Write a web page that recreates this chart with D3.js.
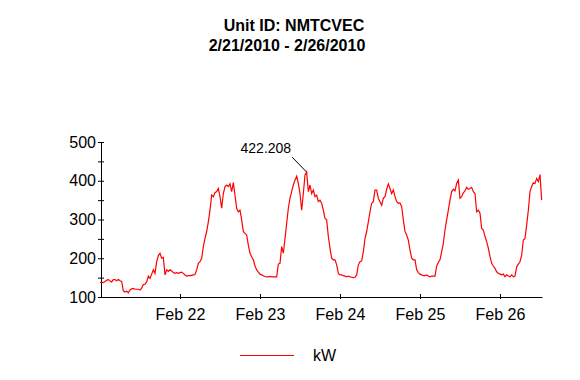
<!DOCTYPE html>
<html><head><meta charset="utf-8">
<script src="https://cdn.jsdelivr.net/npm/d3@7"></script>
<style>
body{margin:0;background:#fff}
svg{display:block}
text{font-family:Arial,"Liberation Sans",sans-serif;fill:#000}
</style>
</head><body>
<svg id="c" width="580" height="380"></svg>
<script>
// ---- data ----
const titleLines = ["Unit ID: NMTCVEC", "2/21/2010 - 2/26/2010"];
const seriesName = "kW";
const startDate = new Date(2010, 1, 21, 0, 0);
const endDate = new Date(2010, 1, 26, 12, 45);
const stepMinutes = 30;

const feb21 = [138,138,137,140,143,145,141,139,145,145,142,145,142,140,116,113,115,111,118,121,122,120,120,120,
               118,123,132,133,139,154,148,159,170,161,191,207,213,200,202,157,170,166,170,167,163,161,163,161];
const feb22 = [163,164,161,157,154,155,155,156,157,158,170,187,191,200,230,251,269,294,324,363,359,369,372,380,
               359,329,367,385,389,385,392,372,395,363,329,320,324,299,269,264,260,234,213,204,196,180,170,164];
const feb23 = [159,157,155,153,152,152,153,152,152,152,152,185,187,230,213,251,290,329,355,372,389,402,412,393,
               367,324,367,415,422.208,372,389,367,376,359,363,346,350,342,324,303,299,256,226,200,196,196,183,161];
const feb24 = [157,157,155,154,152,154,152,151,150,151,157,183,191,193,217,251,269,294,320,342,346,376,376,355,
               346,337,355,359,378,392,380,367,376,359,346,342,343,333,299,269,260,247,221,200,196,196,170,163];
const feb25 = [159,157,155,155,157,154,152,154,154,154,180,189,196,217,238,273,299,324,350,372,378,374,393,402,
               355,359,369,374,383,378,380,383,372,367,320,324,316,277,273,256,243,226,204,187,180,174,165,161];
const feb26 = [159,157,159,152,157,154,152,157,152,154,178,185,191,208,247,251,286,324,372,385,395,393,406,398,
               416,350];

const xTickDates = [new Date(2010,1,22), new Date(2010,1,23), new Date(2010,1,24), new Date(2010,1,25), new Date(2010,1,26)];
const xTickLabels = ["Feb 22", "Feb 23", "Feb 24", "Feb 25", "Feb 26"];
const yMajorTicks = [100, 200, 300, 400, 500];
const yMinorTicks = [150, 250, 350, 450];

// ---- build ----
const values = [].concat(feb21, feb22, feb23, feb24, feb25, feb26);
const data = values.map((v, i) => ({t: new Date(startDate.getTime() + i * stepMinutes * 60000), v}));

const svg = d3.select("#c");
const x = d3.scaleTime().domain([startDate, endDate]).range([100, 542.5]);
const y = d3.scaleLinear().domain([100, 500]).range([297, 142]);

// title
svg.append("text").attr("x", 294).attr("y", 31).attr("text-anchor", "middle")
  .style("font-weight", "bold").style("font-size", "16px").text(titleLines[0]);
svg.append("text").attr("x", 287).attr("y", 51).attr("text-anchor", "middle")
  .style("font-weight", "bold").style("font-size", "16px").text(titleLines[1]);

// x axis
const xAxis = d3.axisBottom(x).tickValues(xTickDates)
  .tickFormat((d, i) => xTickLabels[i]).tickSize(2).tickSizeOuter(0).tickPadding(10);
const gx = svg.append("g").attr("transform", "translate(0,297)").call(xAxis);
gx.select(".domain").attr("d", "M101,0.5H542.5").attr("stroke", "#000");
gx.selectAll(".tick line").attr("y1", -3).attr("y2", 2).attr("stroke", "#000");
gx.selectAll(".tick text").style("font-size", "16px").attr("fill", "#000");

// y axis
const allY = yMajorTicks.concat(yMinorTicks).sort((a, b) => a - b);
const yAxis = d3.axisLeft(y).tickValues(allY)
  .tickFormat(d => yMajorTicks.includes(d) ? d : "").tickSize(3).tickSizeOuter(0).tickPadding(2);
const gy = svg.append("g").attr("transform", "translate(101,0)").call(yAxis);
gy.select(".domain").attr("stroke", "#000");
gy.selectAll(".tick line").attr("x1", 3).attr("stroke", "#000");
gy.selectAll(".tick text").style("font-size", "16px").attr("fill", "#000");

// series line
const line = d3.line().x(d => x(d.t)).y(d => y(d.v));
svg.append("path").datum(data).attr("d", line)
  .attr("fill", "none").attr("stroke", "#ff0000").attr("stroke-width", 1.2);

// peak annotation
const peak = data.reduce((a, b) => (b.v > a.v ? b : a));
const px = x(peak.t), py = y(peak.v);
svg.append("line").attr("x1", px - 14.5).attr("y1", py - 15).attr("x2", px).attr("y2", py)
  .attr("stroke", "#000").attr("stroke-width", 1);
svg.append("text").attr("x", px - 15.5).attr("y", py - 19).attr("text-anchor", "end")
  .style("font-size", "14px").text(d3.format(".3f")(peak.v));

// legend
svg.append("line").attr("x1", 240).attr("x2", 294).attr("y1", 355.5).attr("y2", 355.5)
  .attr("stroke", "#ff0000").attr("stroke-width", 1.2);
svg.append("text").attr("x", 313).attr("y", 361).style("font-size", "16px").text(seriesName);
</script>
</body></html>
